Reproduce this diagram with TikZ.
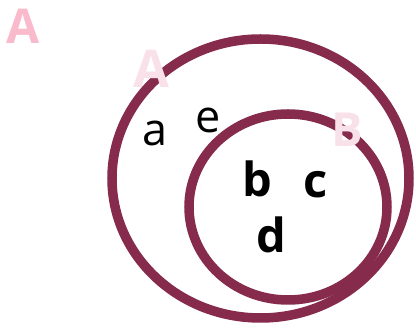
\documentclass[tikz,border=0pt]{standalone}
\usepackage{fontspec}
\setmainfont{Open Sans}
\usepackage{xcolor}
\usepackage{tikz}
\definecolor{setred}{HTML}{862B4C}
\definecolor{pinkA}{HTML}{F9BBCB}
\definecolor{palepink}{HTML}{F9E1EA}

\begin{document}
\begin{tikzpicture}[x=1pt,y=-1pt,
  setline/.style={draw=setred,line width=9.5pt},
  elem/.style={inner sep=0pt,font=\fontsize{45}{45}\selectfont},
  belem/.style={inner sep=0pt,font=\fontsize{47}{47}\selectfont\bfseries},
  setname/.style={inner sep=0pt,font=\fontsize{#1}{#1}\selectfont\bfseries}]
  \useasboundingbox (0,0) rectangle (416,328);
  \draw[setline] (260.5,178.5) ellipse (148.5 and 139.5);
  \draw[setline] (288,207) ellipse (99 and 93);
  \node[setname=48,text=pinkA] (titleA) at (23,26) {A};
  \node[setname=52,text=palepink] (nameA) at (151,69) {A};
  \node[setname=47,text=palepink] (nameB) at (347,130) {B};
  \node[elem] (ea) at (155,133.5) {a};
  \node[elem] (ee) at (208,120) {e};
  \node[belem] (eb) at (257.5,178.5) {b};
  \node[belem] (ec) at (315.5,184.5) {c};
  \node[belem] (ed) at (271,235) {d};
\end{tikzpicture}
\end{document}
